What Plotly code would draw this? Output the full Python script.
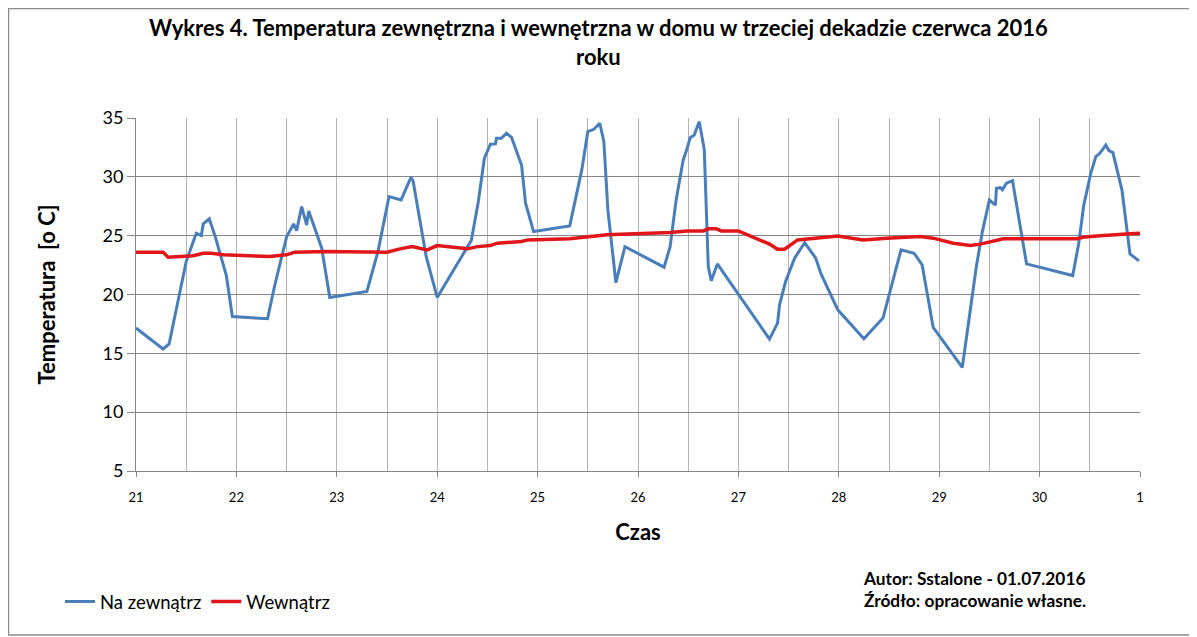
import plotly.graph_objects as go

# czas w dniach (21 = 21 czerwca, 31 = 1 lipca)
czas_zew = [
    21.0, 21.27, 21.33, 21.42, 21.5, 21.6, 21.65, 21.67, 21.73, 21.79, 21.9, 21.96,
    22.31, 22.38, 22.5, 22.57, 22.6, 22.65, 22.7, 22.72, 22.85, 22.93,
    23.3, 23.41, 23.52, 23.64, 23.74, 23.76, 23.89, 24.0,
    24.26, 24.34, 24.41, 24.47, 24.53, 24.58, 24.59, 24.64, 24.69, 24.74, 24.84, 24.88, 24.96,
    25.32, 25.44, 25.5, 25.56, 25.62, 25.66, 25.7, 25.78, 25.87,
    26.26, 26.32, 26.38, 26.45, 26.49, 26.52, 26.56, 26.61, 26.66, 26.7, 26.73, 26.79,
    27.31, 27.39, 27.41, 27.47, 27.56, 27.66, 27.77, 27.82, 27.99,
    28.25, 28.44, 28.62, 28.75, 28.83, 28.94, 29.23,
    29.37, 29.43, 29.5, 29.56, 29.57, 29.61, 29.63, 29.67, 29.73, 29.87,
    30.33, 30.39, 30.44, 30.51, 30.56, 30.6, 30.66, 30.69, 30.73, 30.82, 30.9, 30.99,
]
temp_zew = [
    17.15, 15.37, 15.8, 19.55, 22.8, 25.2, 25.0, 26.0, 26.43, 24.9, 21.6, 18.13,
    17.94, 20.7, 24.9, 26.0, 25.43, 27.47, 25.9, 27.1, 23.94, 19.75,
    20.26, 23.65, 28.32, 28.04, 29.97, 29.65, 23.23, 19.75,
    23.5, 24.6, 27.9, 31.58, 32.77, 32.8, 33.27, 33.27, 33.7, 33.36, 31.0, 27.76, 25.35,
    25.83, 30.59, 33.84, 34.04, 34.55, 32.99, 27.19, 21.0, 24.07,
    22.32, 24.07, 28.04, 31.43, 32.43, 33.33, 33.56, 34.69, 32.34, 22.38, 21.16, 22.6,
    16.21, 17.57, 19.13, 21.1, 23.09, 24.41, 23.09, 21.82, 18.7,
    16.24, 18.0, 23.8, 23.51, 22.52, 17.2, 13.8,
    22.38, 25.35, 28.04, 27.6, 29.03, 29.08, 28.9, 29.46, 29.68, 22.6,
    21.61, 24.36, 27.6, 30.3, 31.72, 32.0, 32.7, 32.23, 32.06, 28.9, 23.45, 22.86,
]

czas_wew = [
    21.0, 21.27, 21.32, 21.57, 21.67, 21.75, 21.87, 22.33, 22.5, 22.58, 22.9,
    23.5, 23.63, 23.75, 23.9, 24.0, 24.3, 24.4, 24.53, 24.6, 24.84, 24.9,
    25.32, 25.69, 26.32, 26.49, 26.65, 26.7, 26.78, 26.83, 27.0,
    27.31, 27.39, 27.46, 27.59, 27.68, 27.99, 28.24, 28.48, 28.81, 28.94,
    29.14, 29.31, 29.41, 29.52, 29.64, 30.37, 30.43, 30.57, 30.7, 30.9, 31.0,
]
temp_wew = [
    23.6, 23.6, 23.17, 23.3, 23.5, 23.5, 23.37, 23.23, 23.37, 23.6, 23.65,
    23.6, 23.88, 24.07, 23.79, 24.16, 23.88, 24.07, 24.16, 24.36, 24.5, 24.64,
    24.73, 25.07, 25.26, 25.4, 25.4, 25.58, 25.58, 25.4, 25.4,
    24.28, 23.85, 23.85, 24.64, 24.73, 24.98, 24.64, 24.79, 24.92, 24.79,
    24.36, 24.16, 24.28, 24.5, 24.73, 24.73, 24.87, 24.98, 25.07, 25.16, 25.2,
]

dni = list(range(21, 32))
dni_etykiety = [str(d) for d in range(21, 31)] + ["1"]

FONT = "Lato"

fig = go.Figure()
fig.add_trace(
    go.Scatter(
        x=czas_zew,
        y=temp_zew,
        mode="lines",
        name="Na zewnątrz",
        line=dict(color="#4A7EBB", width=3),
    )
)
fig.add_trace(
    go.Scatter(
        x=czas_wew,
        y=temp_wew,
        mode="lines",
        name="Wewnątrz",
        line=dict(color="#E0161A", width=3.5),
    )
)

# strona ma 8 px marginesu, więc figura jest o tyle mniejsza
fig.update_layout(
    width=1189,
    height=629,
    margin=dict(l=128, r=57, t=110, b=166),
    paper_bgcolor="white",
    plot_bgcolor="white",
    font=dict(family=FONT, color="black"),
    xaxis=dict(
        range=[21, 31],
        tickmode="array",
        tickvals=dni,
        ticktext=dni_etykiety,
        showgrid=True,
        gridcolor="#B3B3B3",
        gridwidth=1,
        minor=dict(dtick=0.5, tick0=21, showgrid=True, gridcolor="#B3B3B3", ticklen=0),
        showline=True,
        linecolor="#868686",
        ticks="outside",
        ticklen=5,
        tickcolor="#868686",
        tickfont=dict(size=13),
        ticklabelstandoff=9,
        zeroline=False,
        title=dict(text="Czas", font=dict(size=22, weight="bold"), standoff=21),
    ),
    yaxis=dict(
        range=[5, 35],
        tickmode="linear",
        tick0=5,
        dtick=5,
        showgrid=True,
        gridcolor="#868686",
        gridwidth=1,
        showline=True,
        linecolor="#868686",
        ticks="outside",
        ticklen=8,
        tickcolor="#868686",
        tickfont=dict(size=18),
        zeroline=False,
        title=dict(
            text="Temperatura \u00a0[o C]",
            font=dict(size=22, weight="bold"),
            standoff=40,
        ),
    ),
    showlegend=True,
    legend=dict(
        orientation="h",
        x=-0.0757,
        xanchor="left",
        y=-0.371,
        yanchor="middle",
        font=dict(size=18.5),
        itemwidth=30,
        bgcolor="rgba(0,0,0,0)",
    ),
)

# tytuł jako adnotacja (dwie linie)
fig.add_annotation(
    text="<b>Wykres 4. Temperatura zewnętrzna i wewnętrzna w domu w trzeciej dekadzie czerwca 2016</b><br><b>roku</b>",
    xref="paper",
    yref="paper",
    x=0.4602,
    y=1.2153,
    xanchor="center",
    yanchor="middle",
    align="center",
    showarrow=False,
    font=dict(size=22, color="black"),
)

fig.add_annotation(
    text="<b>Autor: Sstalone - 01.07.2016</b><br><b>Źródło: opracowanie własne.</b>",
    xref="paper",
    yref="paper",
    x=0.722,
    y=-0.337,
    xanchor="left",
    yanchor="middle",
    align="left",
    showarrow=False,
    font=dict(size=17.3, color="black"),
)

# ramka wokół całego wykresu
fig.add_shape(
    type="rect",
    xref="paper",
    yref="paper",
    x0=-0.127,
    x1=1.0548,
    y0=-0.4646,
    y1=1.31,
    line=dict(color="#8C8C8C", width=1.5),
    fillcolor="rgba(0,0,0,0)",
)

fig.write_html("out.html")
